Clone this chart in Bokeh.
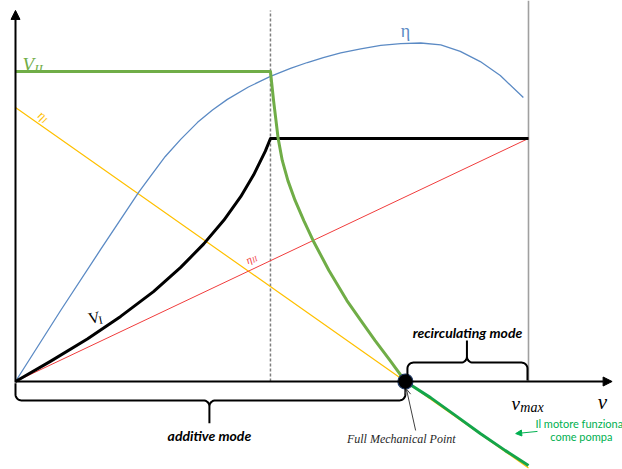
import numpy as np
from bokeh.plotting import figure
from bokeh.models import Range1d, Arrow, NormalHead, OpenHead
from bokeh.core.properties import value
from bokeh.embed import file_html
from bokeh.resources import INLINE

# Speeds are normalised to v_max, voltages/efficiencies to V_II
v_base = 0.497     # end of the constant V_II region
v_fmp = 0.760      # full mechanical point
v_max = 1.0

# efficiency eta
eta_v = [0, 0.088, 0.166, 0.240, 0.263, 0.292, 0.322, 0.355, 0.384, 0.413, 0.454, 0.497,
         0.536, 0.569, 0.600, 0.634, 0.673, 0.712, 0.751, 0.790, 0.829, 0.867, 0.906,
         0.945, 0.990]
eta_V = [0, 0.229, 0.426, 0.610, 0.662, 0.726, 0.781, 0.836, 0.876, 0.910, 0.950, 0.984,
         1.010, 1.029, 1.045, 1.060, 1.073, 1.084, 1.090, 1.092, 1.086, 1.065, 1.032,
         0.987, 0.916]

# V_I
VI_v = [0, 0.068, 0.140, 0.205, 0.269, 0.322, 0.367, 0.406, 0.439, 0.464, 0.487, 0.497, 1.0]
VI_V = [0, 0.065, 0.137, 0.210, 0.290, 0.368, 0.444, 0.520, 0.596, 0.666, 0.743, 0.784, 0.784]

# V_II (motor side)
VII_v = [0, 0.497, 0.503, 0.512, 0.520, 0.531, 0.545, 0.562, 0.580, 0.611, 0.646,
         0.673, 0.701, 0.730, 0.760]
VII_V = [1.0, 1.0, 0.907, 0.784, 0.713, 0.648, 0.584, 0.519, 0.455, 0.358, 0.261,
         0.197, 0.132, 0.068, 0.0]

# V_II beyond the full mechanical point (motor working as pump)
pump_v = [0.760, 0.809, 0.858, 0.906, 0.955, 1.0]
pump_V = [0, -0.052, -0.110, -0.168, -0.223, -0.271]

# eta_I and eta_II
etaI_v = [0, 0.760, 1.0]
etaI_V = [0.884, 0.0, -0.279]
etaII_v = [0, 1.0]
etaII_V = [0, 0.784]

W, H = 622, 469
SX, SY = 513.0, 310.0  # pixels per unit on each axis

p = figure(width=W, height=H, output_backend="svg", toolbar_location=None,
           x_axis_type=None, y_axis_type=None,
           x_range=Range1d(-15 / SX, 607 / SX), y_range=Range1d(-88 / SY, 381 / SY),
           min_border=0, outline_line_color=None, background_fill_color="white",
           border_fill_color="white")
p.grid.visible = False

GREEN = "#70ad47"
DGREEN = "#14a54a"
BLUE = "#5b8ac4"
YELLOW = "#ffc000"
RED = "#f03c3c"

# vertical references
p.line([v_base, v_base], [0, 1.197], line_color="#7f7f7f", line_width=1.5, line_dash="3 2")
p.line([v_max, v_max], [0, 1.229], line_color="#a0a0a0", line_width=1.6)

# curves
p.line(etaI_v, etaI_V, line_color=YELLOW, line_width=1.2)
p.line(etaII_v, etaII_V, line_color=RED, line_width=1.0)
p.line(eta_v, eta_V, line_color=BLUE, line_width=1.3, line_join="round")
p.line(VI_v, VI_V, line_color="black", line_width=3, line_join="round")
p.line(VII_v, VII_V, line_color=GREEN, line_width=3, line_join="round")
p.line(pump_v, pump_V, line_color=DGREEN, line_width=3, line_join="round")

# axes with arrow heads
p.add_layout(Arrow(end=NormalHead(size=9, fill_color="black", line_color="black"),
                   x_start=0, y_start=-0.003, x_end=0, y_end=1.197,
                   line_color="black", line_width=2))
p.add_layout(Arrow(end=NormalHead(size=9, fill_color="black", line_color="black"),
                   x_start=0, y_start=0, x_end=1.163, y_end=0,
                   line_color="black", line_width=2))

# full mechanical point
p.scatter([v_fmp], [0], size=15, fill_color="black", line_color="#1f3864", line_width=1.2)


def brace(x0, x1, xm, y_line, y_end, y_tip, r=6):
    rx, ry = r / SX, r / SY
    d = np.sign(y_tip - y_line)
    t = np.linspace(0, np.pi / 2, 10)
    xs = [x0]
    ys = [y_end]
    cx, cy = x0 + rx, y_line - d * ry
    xs += list(cx - rx * np.cos(t)); ys += list(cy + d * ry * np.sin(t))
    cx, cy = xm - rx, y_line + d * ry
    xs += list(cx + rx * np.sin(t)); ys += list(cy - d * ry * np.cos(t))
    xs += [xm, xm]; ys += [y_tip, y_line + d * ry]
    cx, cy = xm + rx, y_line + d * ry
    xs += list(cx - rx * np.cos(t)); ys += list(cy - d * ry * np.sin(t))
    cx, cy = x1 - rx, y_line - d * ry
    xs += list(cx + rx * np.sin(t)); ys += list(cy + d * ry * np.cos(t))
    xs += [x1]; ys += [y_end]
    p.line(xs, ys, line_color="black", line_width=2)


brace(0.0, v_fmp, 0.378, -0.061, -0.006, -0.135)
brace(0.764, 0.998, 0.880, 0.061, 0.003, 0.132)

SANS = value("Lato")
SERIF = value("Liberation Serif")


def txt(x, y, s, size, color="black", font=SANS, style="normal", align="left",
        baseline="alphabetic", angle=0.0):
    p.text([x], [y], text=[s], text_font=font, text_font_size=f"{size}px",
           text_font_style=style, text_color=color, text_align=align,
           text_baseline=baseline, angle=angle)


def sub_label(x, y, main, sub, size, color, angle=0.0, style="italic", wmain=0.6, subsize=None):
    subsize = subsize or size * 0.7
    w = wmain * size
    drop = 0.22 * size
    dx = w * np.cos(angle) + drop * np.sin(angle)
    dy = w * np.sin(angle) - drop * np.cos(angle)
    txt(x, y, main, size, color, SERIF, style, angle=angle)
    txt(x + dx / SX, y + dy / SY, sub, subsize, color, SERIF, style, angle=angle)


# curve labels
sub_label(0.0136, 1.023, "V", "II", 19, GREEN, wmain=0.62, subsize=13)
sub_label(0.047, 0.865, "η", "I", 13, YELLOW, angle=-0.616, wmain=0.5)
sub_label(0.450, 0.390, "η", "II", 11, RED, angle=0.44, wmain=0.5)
sub_label(0.142, 0.203, "V", "I", 16, "black", angle=0.2, style="normal", wmain=0.62)
txt(v_fmp, 1.132, "η", 18, BLUE, SERIF, align="center", baseline="middle")

# axis labels
txt(1.135, -0.065, "v", 21, "black", SERIF, "italic")
txt(0.967, -0.071, "v", 19, "black", SERIF, "italic")
txt(0.984, -0.084, "max", 14, "black", SERIF, "italic")

# region labels
txt(0.881, 0.158, "recirculating mode", 14, "black", SANS, "bold italic", align="center", baseline="middle")
txt(0.378, -0.174, "additive mode", 14, "black", SANS, "bold italic", align="center", baseline="middle")
txt(0.752, -0.187, "Full Mechanical Point", 12, "#262626", SERIF, "italic", align="center", baseline="middle")

# pointer to the full mechanical point
p.add_layout(Arrow(end=OpenHead(size=6, line_color="#404040", line_width=1),
                   x_start=0.780, y_start=-0.158, x_end=0.762, y_end=-0.024,
                   line_color="#404040", line_width=1))

# pump note
txt(1.099, -0.135, "Il motore funziona", 11, "#00b050", SANS, align="center", baseline="middle")
txt(1.103, -0.177, "come pompa", 11, "#00b050", SANS, align="center", baseline="middle")
p.add_layout(Arrow(end=NormalHead(size=6, fill_color="#00b050", line_color="#00b050"),
                   x_start=1.0175, y_start=-0.161, x_end=0.975, y_end=-0.168,
                   line_color="#00b050", line_width=1))

open("out.html", "w").write(file_html(p, INLINE))
